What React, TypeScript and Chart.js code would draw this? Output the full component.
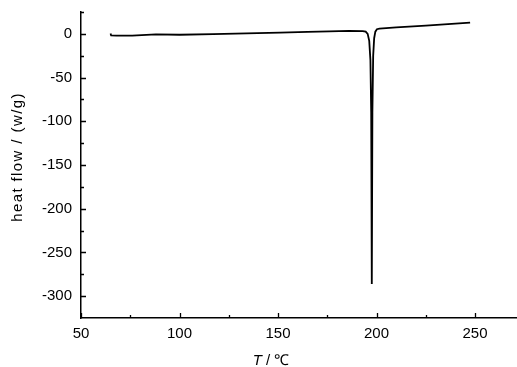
import React, { useEffect, useRef } from "react";
import { Chart, registerables } from "chart.js";

Chart.register(...registerables);

const temperatures: number[] = [
  65.0, 65.3, 68, 76, 88, 100, 117, 134, 151, 165, 176, 186, 193.0, 194.5,
  195.5, 196.3, 196.9, 197.3, 197.6, 197.9, 198.3, 198.8, 199.4, 200.2, 201.5,
  210, 225, 240, 247.5,
];
const heatFlow: number[] = [
  0.5, -1.8, -2.0, -2.1, -0.5, -1.0, -0.3, 0.5, 1.4, 2.3, 2.9, 3.4, 3.2, 2.5,
  0, -8, -30, -90, -286, -90, -25, -5, 2.5, 5.3, 6.0,
  7.3, 9.5, 11.7, 12.8,
];
const xTickValues: number[] = [50, 100, 150, 200, 250];
const yTickValues: number[] = [0, -50, -100, -150, -200, -250, -300];
const xMinorValues: number[] = [75, 125, 175, 225];
const yMinorValues: number[] = [25, -25, -75, -125, -175, -225, -275];
const yTitle = "heat flow / (w/g)";
const xTitleItalic = "T";
const xTitleRest = " / \u2103";

const FONT = "'Liberation Sans', Arial, sans-serif";

const tickPlugin = {
  id: "insideTicks",
  afterDraw(chart: any) {
    const ctx = chart.ctx;
    const xs = chart.scales.x;
    const ys = chart.scales.y;
    const area = chart.chartArea;
    ctx.save();
    ctx.strokeStyle = "#000";
    ctx.lineWidth = 1.3;
    ctx.beginPath();
    const major = 5;
    const minor = 3;
    xTickValues.forEach((v) => {
      const px = Math.round(xs.getPixelForValue(v)) + 0.5;
      ctx.moveTo(px, area.bottom);
      ctx.lineTo(px, area.bottom - major);
    });
    xMinorValues.forEach((v) => {
      const px = Math.round(xs.getPixelForValue(v)) + 0.5;
      ctx.moveTo(px, area.bottom);
      ctx.lineTo(px, area.bottom - minor);
    });
    yTickValues.forEach((v) => {
      const py = Math.round(ys.getPixelForValue(v)) + 0.5;
      ctx.moveTo(area.left, py);
      ctx.lineTo(area.left + major, py);
    });
    yMinorValues.forEach((v) => {
      const py = Math.round(ys.getPixelForValue(v)) + 0.5;
      ctx.moveTo(area.left, py);
      ctx.lineTo(area.left + minor, py);
    });
    ctx.stroke();

    // y title
    ctx.fillStyle = "#000";
    ctx.save();
    ctx.translate(18, 157);
    ctx.rotate(-Math.PI / 2);
    ctx.font = `15px ${FONT}`;
    try {
      ctx.letterSpacing = "1.4px";
    } catch (e) {}
    ctx.textAlign = "center";
    ctx.textBaseline = "middle";
    ctx.fillText(yTitle, 0, 0);
    ctx.restore();

    // x title
    ctx.font = `italic 15px ${FONT}`;
    const w1 = ctx.measureText(xTitleItalic).width;
    ctx.font = `15px ${FONT}`;
    const w2 = ctx.measureText(xTitleRest).width;
    const startX = 271 - (w1 + w2) / 2;
    ctx.textBaseline = "alphabetic";
    ctx.textAlign = "left";
    ctx.font = `italic 15px ${FONT}`;
    ctx.fillText(xTitleItalic, startX, 365);
    ctx.font = `15px ${FONT}`;
    ctx.fillText(xTitleRest, startX + w1, 365);
    ctx.restore();
  },
};

export default function App() {
  const canvasRef = useRef<HTMLCanvasElement | null>(null);

  useEffect(() => {
    if (!canvasRef.current) return;
    const points = temperatures.map((t, i) => ({ x: t, y: heatFlow[i] }));
    const chart = new Chart(canvasRef.current, {
      type: "line",
      data: {
        datasets: [
          {
            data: points,
            borderColor: "#000",
            borderWidth: 1.8,
            pointRadius: 0,
            tension: 0,
            fill: false,
          },
        ],
      },
      options: {
        animation: false,
        responsive: false,
        maintainAspectRatio: false,
        layout: { padding: { top: 12, right: 0, left: 0, bottom: 0 } },
        plugins: {
          legend: { display: false },
          tooltip: { enabled: false },
        },
        scales: {
          x: {
            type: "linear",
            min: 50,
            max: 271.3,
            afterFit: (scale: any) => {
              scale.height = 49;
              scale.paddingLeft = 0;
              scale.paddingRight = 0;
            },
            afterBuildTicks: (scale: any) => {
              scale.ticks = xTickValues.map((v) => ({ value: v }));
            },
            grid: { display: false, drawTicks: false, tickLength: 0 },
            border: { display: true, color: "#000", width: 1.5 },
            ticks: {
              color: "#000",
              font: { family: FONT, size: 15 },
              padding: 7,
              maxRotation: 0,
              autoSkip: false,
            },
          },
          y: {
            type: "linear",
            min: -325,
            max: 25,
            afterFit: (scale: any) => {
              scale.width = 81;
              scale.paddingTop = 0;
              scale.paddingBottom = 0;
            },
            afterBuildTicks: (scale: any) => {
              scale.ticks = yTickValues.map((v) => ({ value: v }));
            },
            grid: { display: false, drawTicks: false, tickLength: 0 },
            border: { display: true, color: "#000", width: 1.5 },
            ticks: {
              color: "#000",
              font: { family: FONT, size: 15 },
              padding: 9,
              autoSkip: false,
            },
          },
        },
      },
      plugins: [tickPlugin],
    });
    return () => chart.destroy();
  }, []);

  return (
    <div
      style={{
        position: "fixed",
        left: 0,
        top: 0,
        width: 517,
        height: 367,
        overflow: "hidden",
        background: "#fff",
      }}
    >
      <canvas ref={canvasRef} width={517} height={367} style={{ display: "block" }} />
    </div>
  );
}
